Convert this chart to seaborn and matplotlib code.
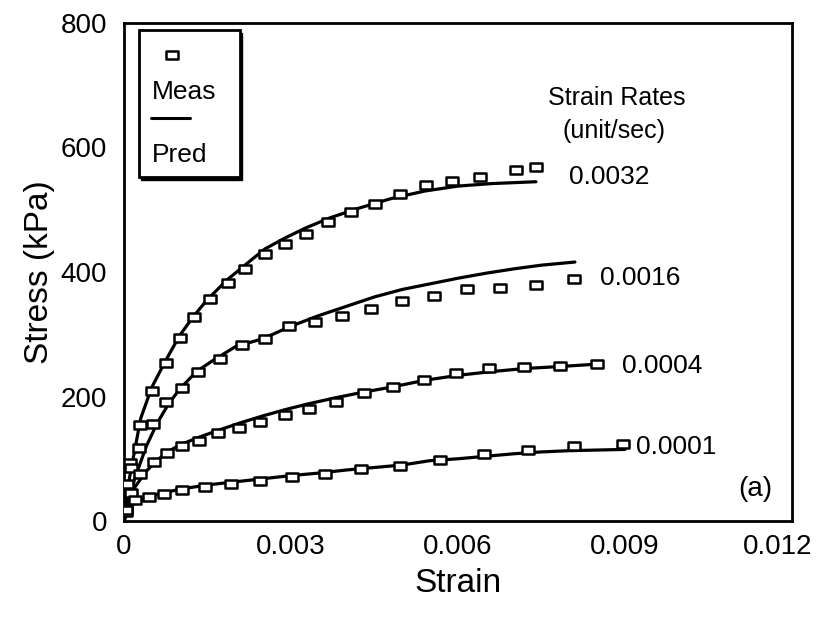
import numpy as np
import pandas as pd
import seaborn as sns
import matplotlib
matplotlib.use("Agg")
import matplotlib.pyplot as plt
import matplotlib.transforms as mtransforms
from matplotlib.patches import Rectangle
from matplotlib.path import Path

# ---------------- data ----------------
rates = ["0.0032", "0.0016", "0.0004", "0.0001"]

meas_x_0032 = [0.00002, 0.00005, 0.00011, 0.00029, 0.00051, 0.00075, 0.00100, 0.00125, 0.00155,
               0.00186, 0.00218, 0.00253, 0.00289, 0.00327, 0.00366, 0.00407, 0.00450, 0.00495,
               0.00542, 0.00589, 0.00639, 0.00705, 0.00741]
meas_y_0032 = [18, 60, 93, 154, 209, 254, 294, 327, 356, 382, 405, 429, 445, 461, 480, 496, 509,
               526, 539, 546, 553, 564, 569]
pred_x_0032 = [0, 0.0001, 0.0003, 0.0005, 0.00075, 0.001, 0.00125, 0.0015, 0.00186, 0.0022, 0.00253,
               0.0029, 0.00327, 0.0037, 0.0042, 0.0048, 0.0054, 0.006, 0.0066, 0.0074]
pred_y_0032 = [0, 70, 165, 215, 258, 298, 329, 356, 388, 413, 437, 455, 471, 487, 502, 518, 530,
               538, 542, 545]

meas_x_0016 = [0.00003, 0.00013, 0.00027, 0.00052, 0.00075, 0.00104, 0.00133, 0.00172, 0.00212,
               0.00253, 0.00297, 0.00343, 0.00392, 0.00444, 0.00499, 0.00557, 0.00617, 0.00676,
               0.00741, 0.00809]
meas_y_0016 = [20, 85, 118, 156, 191, 214, 240, 260, 282, 293, 313, 319, 329, 340, 353, 362, 373,
               374, 379, 389]
pred_x_0016 = [0, 0.0001, 0.0002, 0.0004, 0.0006, 0.0008, 0.001, 0.0013, 0.0016, 0.002, 0.0025,
               0.003, 0.0035, 0.004, 0.0045, 0.005, 0.0055, 0.006, 0.0065, 0.007, 0.0075, 0.0081]
pred_y_0016 = [0, 40, 70, 120, 158, 188, 212, 240, 258, 280, 293, 313, 330, 345, 360, 372, 381,
               390, 398, 405, 411, 416]

meas_x_0004 = [0.00003, 0.00012, 0.00028, 0.00053, 0.00078, 0.00104, 0.00135, 0.00169, 0.00206,
               0.00245, 0.00289, 0.00333, 0.00380, 0.00431, 0.00484, 0.00539, 0.00597, 0.00656,
               0.00718, 0.00783, 0.00850]
meas_y_0004 = [15, 45, 75, 94, 110, 120, 128, 141, 149, 159, 170, 180, 191, 205, 216, 227, 238,
               245, 248, 249, 252]
pred_x_0004 = [0, 0.0001, 0.0002, 0.0004, 0.0006, 0.0008, 0.001, 0.0013, 0.0017, 0.0021, 0.0025,
               0.0029, 0.0033, 0.0038, 0.0043, 0.0048, 0.0054, 0.006, 0.0066, 0.0072, 0.0078, 0.0085]
pred_y_0004 = [0, 35, 55, 80, 98, 112, 122, 133, 146, 158, 169, 179, 188, 198, 207, 215, 226, 234,
               240, 245, 248, 252]

meas_x_0001 = [0.00004, 0.00020, 0.00045, 0.00072, 0.00105, 0.00145, 0.00192, 0.00245, 0.00301,
               0.00361, 0.00425, 0.00495, 0.00568, 0.00646, 0.00726, 0.00809, 0.00897]
meas_y_0001 = [18, 34, 39, 43, 50, 55, 60, 64, 71, 76, 84, 89, 98, 107, 114, 120, 124]
pred_x_0001 = [0, 0.0001, 0.0003, 0.0006, 0.001, 0.0015, 0.002, 0.0025, 0.003, 0.0035, 0.004,
               0.0045, 0.005, 0.0055, 0.006, 0.0065, 0.007, 0.0075, 0.008, 0.009]
pred_y_0001 = [0, 22, 35, 43, 51, 58, 63, 68, 73, 77, 82, 86, 90, 97, 100, 104, 108, 111, 113, 115]

x_ticks = [0, 0.003, 0.006, 0.009, 0.012]
x_tick_labels = ["0", "0.003", "0.006", "0.009", "0.012"]
y_ticks = [0, 200, 400, 600, 800]
y_tick_labels = ["0", "200", "400", "600", "800"]

# label positions for each rate (data coords)
rate_label_x = [0.00800, 0.00855, 0.00895, 0.00920]
rate_label_y = [553, 390, 249, 119]

meas_sets = [(meas_x_0032, meas_y_0032), (meas_x_0016, meas_y_0016),
             (meas_x_0004, meas_y_0004), (meas_x_0001, meas_y_0001)]
pred_sets = [(pred_x_0032, pred_y_0032), (pred_x_0016, pred_y_0016),
             (pred_x_0004, pred_y_0004), (pred_x_0001, pred_y_0001)]

meas_df = pd.concat([pd.DataFrame({"strain": mx, "stress": my, "rate": r})
                     for r, (mx, my) in zip(rates, meas_sets)], ignore_index=True)
pred_df = pd.concat([pd.DataFrame({"strain": px, "stress": py, "rate": r})
                     for r, (px, py) in zip(rates, pred_sets)], ignore_index=True)

# ---------------- style ----------------
sns.set_style("white")
plt.rcParams["font.family"] = ["Liberation Sans", "DejaVu Sans"]
plt.rcParams["text.color"] = "black"
plt.rcParams["axes.labelcolor"] = "black"
plt.rcParams["xtick.color"] = "black"
plt.rcParams["ytick.color"] = "black"

fig = plt.figure(figsize=(8.17, 6.21), dpi=100)
ax = fig.add_axes([0.1518, 0.161, 0.8176, 0.802])

rect_marker = Path([(-1.45, -1), (1.45, -1), (1.45, 1), (-1.45, 1), (-1.45, -1)],
                   [Path.MOVETO, Path.LINETO, Path.LINETO, Path.LINETO, Path.CLOSEPOLY])

sns.lineplot(data=pred_df, x="strain", y="stress", units="rate", estimator=None, sort=False,
             color="black", linewidth=2.3, legend=False, ax=ax, zorder=2)
sns.scatterplot(data=meas_df, x="strain", y="stress", marker=rect_marker, s=78,
                facecolor="white", edgecolor="black", linewidth=1.8, legend=False, ax=ax, zorder=3)

ax.set_xlim(0, 0.012)
ax.set_ylim(0, 800)
ax.set_xticks(x_ticks)
ax.set_xticklabels(x_tick_labels)
ax.set_yticks(y_ticks)
ax.set_yticklabels(y_tick_labels)
ax.tick_params(axis="both", direction="in", length=5, width=1.5, labelsize=20, colors="black")
ax.tick_params(axis="x", pad=9)
ax.tick_params(axis="y", pad=12)
# last x tick label sits slightly inward in the reference
last = ax.get_xticklabels()[-1]
last.set_transform(last.get_transform() + mtransforms.ScaledTranslation(-14 / 100, 0, fig.dpi_scale_trans))
ax.set_xlabel("Strain", fontsize=24, labelpad=6, color="black")
ax.set_ylabel("Stress (kPa)", fontsize=24, labelpad=4, color="black")
for sp in ax.spines.values():
    sp.set_visible(True)
    sp.set_color("black")
    sp.set_linewidth(2.0)

# annotations
ax.text(0.00886, 679, "Strain Rates", fontsize=18, ha="center", va="center", color="black")
ax.text(0.00880, 627, "(unit/sec)", fontsize=18, ha="center", va="center", color="black")
for lab, lx, ly in zip(rates, rate_label_x, rate_label_y):
    ax.text(lx, ly, lab, fontsize=19, ha="left", va="center", color="black")
ax.text(0.01165, 52, "(a)", fontsize=20, ha="right", va="center", color="black")

# custom legend box
ax.add_patch(Rectangle((0.0255, 0.685), 0.151, 0.295, transform=ax.transAxes,
                       facecolor="black", edgecolor="black", zorder=5, clip_on=False))
ax.add_patch(Rectangle((0.0225, 0.691), 0.151, 0.295, transform=ax.transAxes,
                       facecolor="white", edgecolor="black", linewidth=2.0, zorder=6, clip_on=False))
ax.plot([0.0714], [0.936], transform=ax.transAxes, marker=rect_marker, markersize=8.5,
        markerfacecolor="white", markeredgecolor="black", markeredgewidth=1.8, zorder=7,
        linestyle="none", clip_on=False)
ax.text(0.042, 0.861, "Meas", transform=ax.transAxes, fontsize=19, ha="left", va="center",
        zorder=7, color="black")
ax.plot([0.040, 0.0988], [0.809, 0.809], transform=ax.transAxes, color="black", linewidth=2.2,
        zorder=7, clip_on=False)
ax.text(0.042, 0.735, "Pred", transform=ax.transAxes, fontsize=19, ha="left", va="center",
        zorder=7, color="black")

fig.savefig("out.png", dpi=100)
